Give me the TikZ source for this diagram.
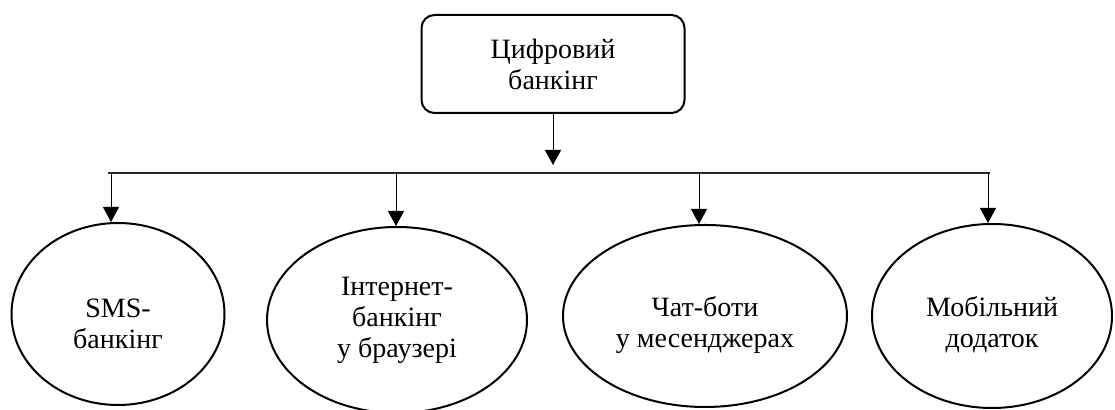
\documentclass[tikz,border=0pt]{standalone}
\usepackage{fontspec}
\setmainfont{Liberation Serif}
\usetikzlibrary{shapes.geometric, arrows.meta, positioning}

\newcommand{\lowerstrut}{\rule{0pt}{19pt}}

\begin{document}
\begin{tikzpicture}[
  x=0.5pt, y=-0.5pt,
  font=\fontsize{14}{15.5}\selectfont,
  rootbox/.style = {rectangle, rounded corners=6.5pt, draw=black, line width=1pt,
                    minimum width=131.5pt, minimum height=49pt,
                    align=center, inner sep=0pt},
  channel/.style = {ellipse, draw=black, line width=1pt,
                    align=center, inner sep=0pt},
  arr/.style     = {-{Triangle[length=7.5pt, width=8pt]}, line width=0.5pt, color=black},
  bus/.style     = {line width=0.6pt, color=black!85},
]
\useasboundingbox (0,0) rectangle (1115,410);

\node[rootbox] (root) at (553,64) {Цифровий\\банкінг};

\node[channel, minimum width=106.5pt, minimum height=91pt] (sms)  at (118,314)
  {\lowerstrut SMS-\\банкінг};
\node[channel, minimum width=130pt,   minimum height=93pt] (web)  at (397,320)
  {Інтернет-\\банкінг\\у браузері};
\node[channel, minimum width=142pt,   minimum height=91pt] (chat) at (705,316)
  {\lowerstrut Чат-боти\\у месенджерах};
\node[channel, minimum width=120pt,   minimum height=92pt] (app)  at (992,316)
  {\lowerstrut Мобільний\\додаток};

%% Bus line
\coordinate (rootTip) at (553,165);
\coordinate (busL) at (108,173);
\coordinate (busR) at (990,173);
\coordinate (b1) at (111,173);
\coordinate (b2) at (396,173);
\coordinate (b3) at (699,173);
\coordinate (b4) at (988,173);

\draw[arr] (root) -- (rootTip);
\draw[bus] (busL) -- (busR);

\foreach \b/\n in {b1/sms, b2/web, b3/chat, b4/app}
  \draw[arr] (\b) -- (\b |- \n.north);

\end{tikzpicture}
\end{document}
